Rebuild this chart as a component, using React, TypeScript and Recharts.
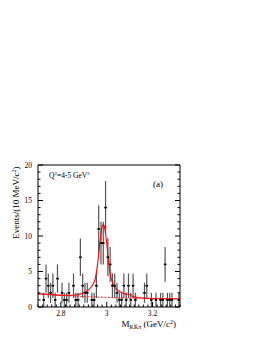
import { ComposedChart, ErrorBar, Line, Scatter, XAxis, YAxis } from 'recharts';

// 10 MeV bins starting at 2.70 GeV; only the non-empty bins are listed
const binIndex = [2, 3, 4, 5, 6, 7, 8, 10, 11, 12, 13, 15, 16, 17, 18, 19, 20, 21, 23, 24, 25, 26, 27, 28, 29, 30, 31, 32, 33, 34, 35, 36, 37, 38, 39, 40, 41, 42, 46, 47, 49, 51, 53, 54, 55, 56, 57, 58, 61];
const eventCounts = [1, 4, 3, 2, 3, 1, 4, 2, 1, 1, 2, 3, 1, 1, 7, 3, 2, 2, 1, 1, 3, 11, 9, 9, 14, 7, 6, 3, 3, 2, 1, 1, 3, 1, 3, 1, 3, 1, 2, 3, 1, 1, 1, 1, 6, 1, 1, 1, 1];

// fit curves
const fitMass = [2.7, 2.75, 2.8, 2.85, 2.88, 2.9, 2.92, 2.94, 2.95, 2.96, 2.97, 2.98, 2.985, 2.99, 3.0, 3.01, 3.02, 3.03, 3.04, 3.06, 3.08, 3.1, 3.11, 3.13, 3.16, 3.2, 3.32];
const fitTotalValues = [1.85, 1.75, 1.65, 1.65, 1.8, 2.0, 2.4, 3.2, 4.0, 6.0, 9.0, 11.3, 11.6, 11.3, 9.0, 5.8, 4.0, 3.1, 2.6, 2.1, 1.85, 1.75, 1.55, 1.35, 1.25, 1.2, 1.15];
const bkgMass = [2.7, 2.8, 2.9, 3.0, 3.1, 3.2, 3.32];
const bkgValues = [1.85, 1.65, 1.48, 1.35, 1.25, 1.2, 1.15];

const xMajorTicks = [2.8, 3.0, 3.2];
const yMajorTicks = [0, 5, 10, 15, 20];
const xTicks = Array.from({ length: 32 }, (_, i) => Math.round((2.7 + 0.02 * i) * 100) / 100);
const yTicks = Array.from({ length: 21 }, (_, i) => i);

const points = binIndex.map((b, i) => ({
  x: 2.7 + 0.01 * b + 0.005,
  y: eventCounts[i],
  err: Math.sqrt(eventCounts[i]),
  xerr: 0.005,
}));
const fitTotal = fitMass.map((x, i) => ({ x, y: fitTotalValues[i] }));
const fitBkg = bkgMass.map((x, i) => ({ x, y: bkgValues[i] }));

const FONT = 'Liberation Serif, Times New Roman, serif';
const isIn = (list: number[], v: number) => list.some((m) => Math.abs(m - v) < 1e-6);

const BottomTick = ({ x, y, payload }: any) => {
  const major = isIn(xMajorTicks, payload.value);
  return (
    <g>
      <line x1={x} x2={x} y1={y} y2={y - (major ? 5 : 2.5)} stroke="#000" />
      {major && (
        <text x={x} y={y + 9} textAnchor="middle" fontSize={7.5} fontFamily={FONT} fill="#000">
          {Math.abs(payload.value - 3) < 1e-6 ? '3' : payload.value.toFixed(1)}
        </text>
      )}
    </g>
  );
};

const TopTick = ({ x, y, payload }: any) => {
  const major = isIn(xMajorTicks, payload.value);
  return <line x1={x} x2={x} y1={y} y2={y + (major ? 5 : 2.5)} stroke="#000" />;
};

const LeftTick = ({ x, y, payload }: any) => {
  const major = isIn(yMajorTicks, payload.value);
  return (
    <g>
      <line x1={x} x2={x + (major ? 5 : 2.5)} y1={y} y2={y} stroke="#000" />
      {major && (
        <text x={x - 6} y={y + 2.6} textAnchor="end" fontSize={7.5} fontFamily={FONT} fill="#000">
          {payload.value}
        </text>
      )}
    </g>
  );
};

const RightTick = ({ x, y, payload }: any) => {
  const major = isIn(yMajorTicks, payload.value);
  return <line x1={x} x2={x - (major ? 5 : 2.5)} y1={y} y2={y} stroke="#000" />;
};

const Dot = ({ cx, cy }: any) => <rect x={cx - 1.2} y={cy - 0.8} width={2.4} height={1.6} fill="#000" />;

export default function App() {
  return (
    <div style={{ position: 'absolute', left: 0, top: 0, width: 266, height: 344, background: '#fff' }}>
      <ComposedChart width={266} height={344} margin={{ top: 164, right: 85, bottom: 36, left: 37 }}>
        <XAxis
          type="number"
          dataKey="x"
          domain={[2.7, 3.32]}
          allowDataOverflow
          ticks={xTicks}
          interval={0}
          height={1}
          tickSize={0}
          tickMargin={0}
          tickLine={false}
          tick={<BottomTick />}
          axisLine={{ stroke: '#000' }}
        />
        <XAxis
          xAxisId="top"
          orientation="top"
          type="number"
          domain={[2.7, 3.32]}
          allowDataOverflow
          ticks={xTicks}
          interval={0}
          height={1}
          tickSize={0}
          tickMargin={0}
          tickLine={false}
          tick={<TopTick />}
          axisLine={{ stroke: '#000' }}
        />
        <YAxis
          type="number"
          dataKey="y"
          domain={[0, 20]}
          allowDataOverflow
          ticks={yTicks}
          interval={0}
          width={1}
          tickSize={0}
          tickMargin={0}
          tickLine={false}
          tick={<LeftTick />}
          axisLine={{ stroke: '#000' }}
        />
        <YAxis
          yAxisId="right"
          orientation="right"
          type="number"
          domain={[0, 20]}
          allowDataOverflow
          ticks={yTicks}
          interval={0}
          width={1}
          tickSize={0}
          tickMargin={0}
          tickLine={false}
          tick={<RightTick />}
          axisLine={{ stroke: '#000' }}
        />
        <Scatter data={points} shape={<Dot />} isAnimationActive={false}>
          <ErrorBar dataKey="err" direction="y" width={0} stroke="#555" strokeWidth={1.2} isAnimationActive={false} />
          <ErrorBar dataKey="xerr" direction="x" width={0} stroke="#222" strokeWidth={1} isAnimationActive={false} />
        </Scatter>
        <Line data={fitBkg} dataKey="y" type="monotone" stroke="#ff2020" strokeWidth={1} strokeDasharray="2 1.5" dot={false} isAnimationActive={false} />
        <Line data={fitTotal} dataKey="y" type="monotone" stroke="#ff0000" strokeWidth={1.1} dot={false} isAnimationActive={false} />
      </ComposedChart>
      <svg width={266} height={344} style={{ position: 'absolute', left: 0, top: 0, pointerEvents: 'none' }} fontFamily={FONT} fill="#000">
        <text x={19} y={166.5} transform="rotate(-90 19 166.5)" textAnchor="end" fontSize={9}>
          Events/(10 MeV/c<tspan dy={-3.5} fontSize={6}>2</tspan>
          <tspan dy={3.5}>)</tspan>
        </text>
        <text x={176} y={327} textAnchor="end" fontSize={9}>
          M<tspan dy={2} fontSize={6}>KK̄π</tspan>
          <tspan dy={-2}> (GeV/c</tspan>
          <tspan dy={-3.5} fontSize={6}>2</tspan>
          <tspan dy={3.5}>)</tspan>
        </text>
        <text x={49} y={177.5} fontSize={7.5}>
          Q<tspan dy={-3} fontSize={5}>2</tspan>
          <tspan dy={3}>=4-5 GeV</tspan>
          <tspan dy={-3} fontSize={5}>2</tspan>
        </text>
        <text x={153} y={186.5} fontSize={9}>(a)</text>
      </svg>
    </div>
  );
}
